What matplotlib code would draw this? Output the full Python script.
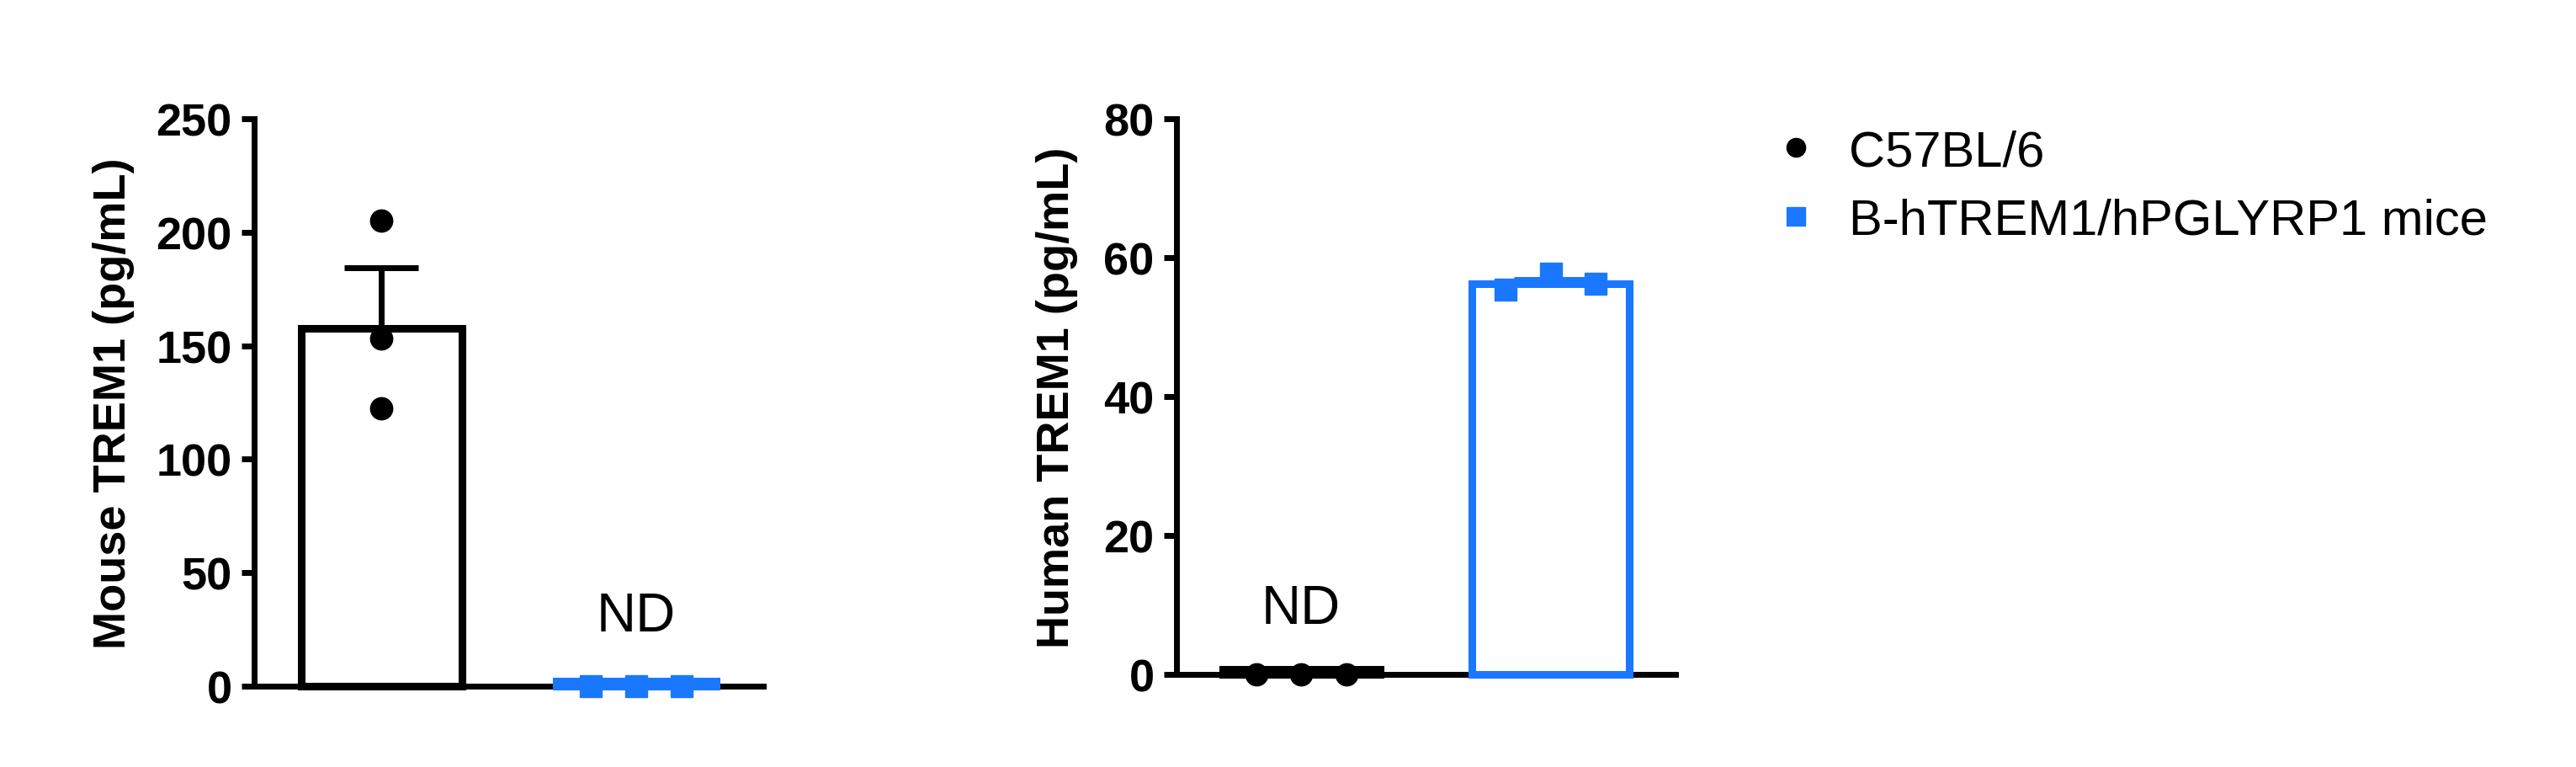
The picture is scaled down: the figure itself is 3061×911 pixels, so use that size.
import matplotlib.pyplot as plt
from matplotlib.lines import Line2D

plt.rcParams['font.family'] = ['Liberation Sans', 'DejaVu Sans']

groups = ["C57BL/6", "B-hTREM1/hPGLYRP1 mice"]
colors = ["#000000", "#1a78ff"]
markers = ["o", "s"]

# mouse TREM1 (pg/mL)
mouse_means = [157.5, 2.3]
mouse_sem = [27, 0]
mouse_pts = [[205, 153, 122.5], [0, 0, 0]]
mouse_offsets = [[0, 0, 0], [-0.18, 0, 0.18]]

# human TREM1 (pg/mL)
human_means = [0.75, 56.2]
human_sem = [0, 0.7]
human_pts = [[0, 0, 0], [55.4, 57.7, 56.2]]
human_offsets = [[-0.18, 0, 0.18], [-0.18, 0, 0.18]]

fig = plt.figure(figsize=(30.61, 9.12), dpi=100)
ax1 = fig.add_axes([0.0987, 0.1053, 0.1977, 0.739])
ax2 = fig.add_axes([0.4567, 0.1206, 0.1937, 0.7237])


def draw(ax, means, sems, pts, offs, ymax, yticks, ylabel, nd_idx, nd_y, lpad):
    for i in range(2):
        ax.bar(i, means[i], width=0.63, facecolor='white', edgecolor=colors[i],
               linewidth=6.5, zorder=3, clip_on=False)
        if sems[i] > 0:
            ax.errorbar(i, means[i], yerr=[[0], [sems[i]]], fmt='none', ecolor=colors[i],
                        elinewidth=5, capsize=32, capthick=5, zorder=2)
        xs = [i + o for o in offs[i]]
        ax.plot(xs, pts[i], linestyle='none', marker=markers[i], color=colors[i],
                markersize=19, zorder=5, clip_on=False)
    ax.text(nd_idx, nd_y, "ND", ha='center', va='bottom', fontsize=47)
    ax.set_xlim(-0.5, 1.5)
    ax.set_ylim(0, ymax)
    ax.set_yticks(yticks)
    ax.set_xticks([])
    ax.spines['top'].set_visible(False)
    ax.spines['right'].set_visible(False)
    ax.spines['left'].set_linewidth(5)
    ax.spines['bottom'].set_linewidth(5)
    ax.tick_params(axis='y', width=5, length=11, pad=8, labelsize=39)
    for lab in ax.get_yticklabels():
        lab.set_fontweight('bold')
    ax.set_ylabel(ylabel, fontsize=39, fontweight='bold', labelpad=lpad)


draw(ax1, mouse_means, mouse_sem, mouse_pts, mouse_offsets, 250, [0, 50, 100, 150, 200, 250],
     "Mouse TREM1 (pg/mL)", 1, 19.7, 18)
draw(ax2, human_means, human_sem, human_pts, human_offsets, 80, [0, 20, 40, 60, 80],
     "Human TREM1 (pg/mL)", 0, 5.8, 22)

handles = [Line2D([], [], linestyle='none', marker=markers[i], color=colors[i], markersize=16)
           for i in range(2)]
fig.legend(handles, groups, loc='upper left', bbox_to_anchor=(0.670, 0.89), frameon=False,
           fontsize=43, handlelength=1.0, handletextpad=0.55, labelspacing=0.45)

fig.savefig("out.png", dpi=100)
